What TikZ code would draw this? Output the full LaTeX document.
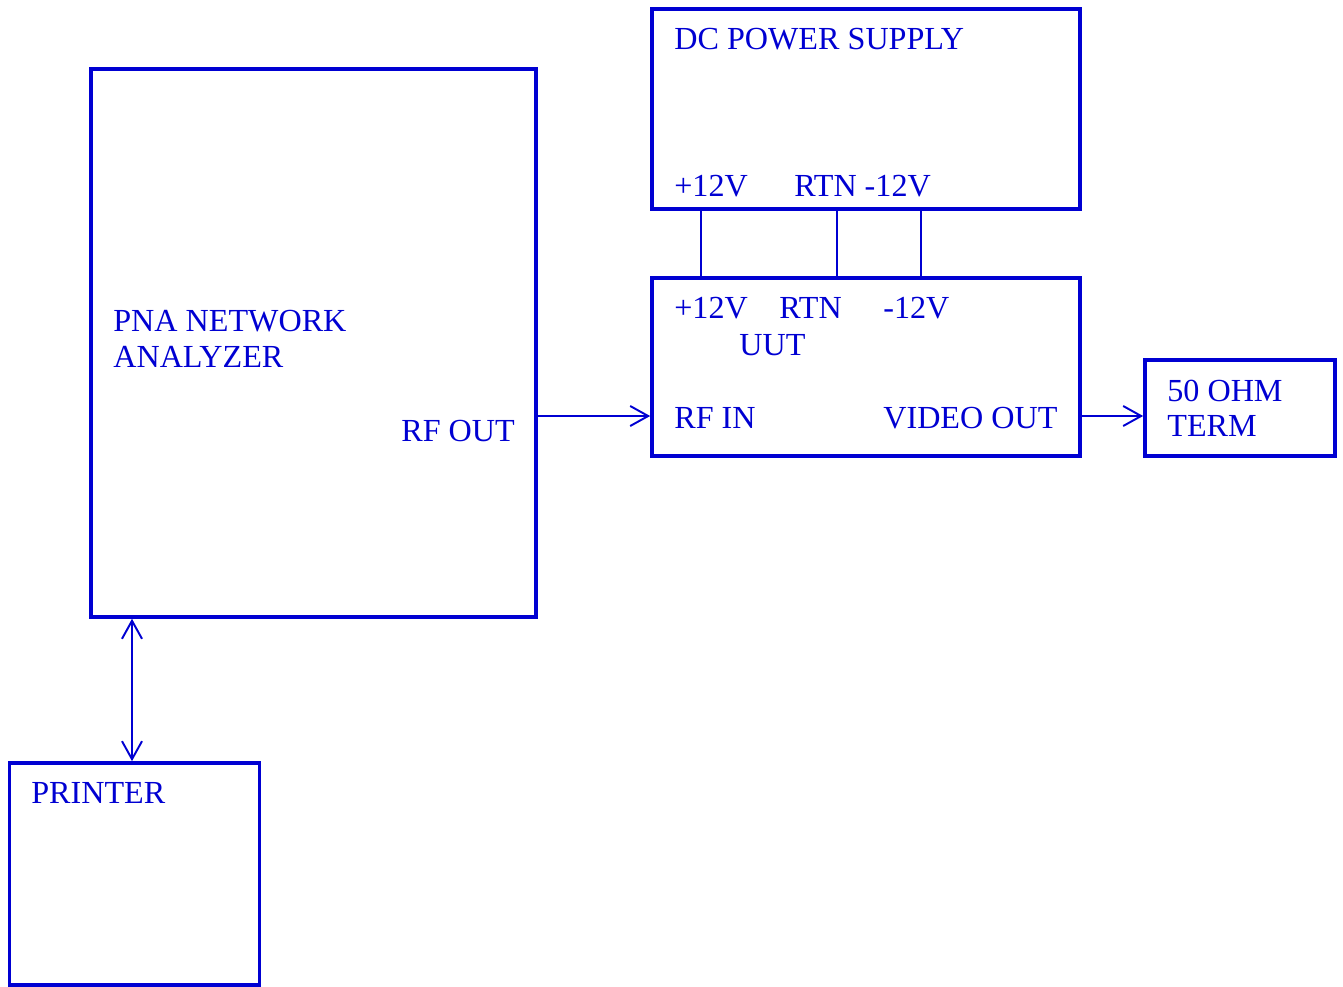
\documentclass[tikz,border=0pt]{standalone}
\usepackage{fontspec}
\setmainfont{Liberation Serif}
\usepackage{tikz}
\usetikzlibrary{arrows.meta}
\definecolor{wireblue}{RGB}{0,0,210}
\tikzset{
  unitbox/.style={draw=wireblue, line width=2.1pt, inner sep=0pt},
  lbl/.style={anchor=base west, inner sep=0pt, text=wireblue, font=\fontsize{18.3}{21}\selectfont},
  wire/.style={draw=wireblue, line width=1.1pt}
}

\begin{document}
\begin{tikzpicture}[x=0.02cm, y=-0.02cm, >={Straight Barb[length=0.36cm, width=0.4cm]}]
\useasboundingbox (0,0) rectangle (1343,987);
% boxes
\node[unitbox, minimum width=8.9cm, minimum height=10.96cm] (pna) at (313.5,343) {};
\node[unitbox, minimum width=8.56cm, minimum height=4cm] (ps) at (866,109) {};
\node[unitbox, minimum width=8.56cm, minimum height=3.56cm] (uut) at (866,367) {};
\node[unitbox, minimum width=3.8cm, minimum height=1.92cm] (term) at (1240,408) {};
\node[unitbox, minimum width=5cm, minimum height=4.44cm] (printer) at (134.5,874) {};
% texts
\node[lbl] (pnatop) at (113,331) {PNA NETWORK};
\node[lbl] (pnabot) at (113,367) {ANALYZER};
\node[lbl] (rfout) at (401,441) {RF OUT};
\node[lbl] (pstitle) at (674,50) {DC POWER SUPPLY};
\node[lbl] (psplus) at (674,196) {+12V};
\node[lbl] (psrtn) at (794,196) {RTN -12V};
\node[lbl] (uutplus) at (674,318) {+12V};
\node[lbl] (uutrtn) at (779,318) {RTN};
\node[lbl] (uutminus) at (883,318) {-12V};
\node[lbl] (uutname) at (739,355) {UUT};
\node[lbl] (rfin) at (674,428) {RF IN};
\node[lbl] (video) at (883,428) {VIDEO OUT};
\node[lbl] (termtop) at (1167,401) {50 OHM};
\node[lbl] (termbot) at (1167,436) {TERM};
\node[lbl] (prname) at (31,803) {PRINTER};
% connectors
\coordinate (sig) at (0,416);
\coordinate (link) at (132,0);
\draw[wire,->] (pna.east |- sig) -- (uut.west |- sig);
\draw[wire,->] (uut.east |- sig) -- (term.west |- sig);
\draw[wire,<->] (pna.south -| link) -- (printer.north -| link);
\foreach \x in {701,837,921}
  \draw[wire] (ps.south -| \x,0) -- (uut.north -| \x,0);
\end{tikzpicture}
\end{document}
